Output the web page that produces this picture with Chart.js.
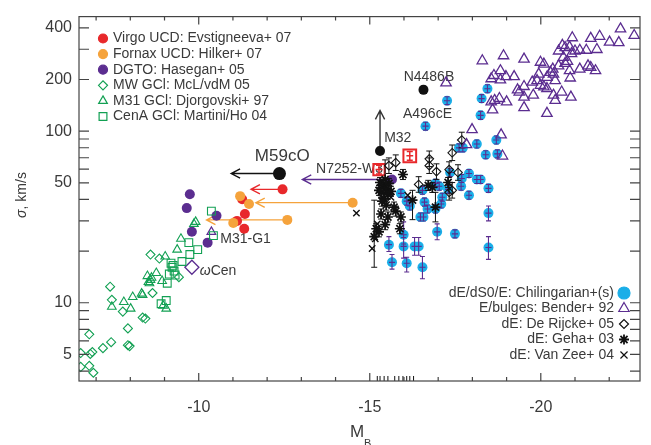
<!DOCTYPE html>
<html>
<head>
<meta charset="utf-8">
<script src="https://cdn.jsdelivr.net/npm/chart.js@4.4.1/dist/chart.umd.min.js"></script>
<style>
  html, body { margin: 0; padding: 0; background: #fff; }
  #wrap { width: 651px; height: 445px; position: relative; }
</style>
</head>
<body>
<div id="wrap"><canvas id="chart" width="651" height="445"></canvas></div>
<script>
// --- Data (M_B, sigma km/s) ---
const virgoUCD = [[-12.45,45.8],[-11.27,40.1],[-11.35,32.9],[-11.12,30.0],[-11.33,27.0]];
const fornaxUCD = [[-14.50,38.3],[-11.21,41.8],[-11.47,37.6],[-11.01,29.2],[-12.59,30.4]];
const dgto = [[-15.65,52.3],[-9.74,42.9],[-9.65,35.6],[-10.52,32.1],[-9.80,25.9],[-10.26,22.4]];
const mwGC = [[-8.59,19.1],[-8.85,18.1],[-9.42,14.1],[-7.41,12.4],[-7.46,10.4],[-7.78,8.88],[-7.93,7.09],
  [-6.80,6.55],[-7.44,5.89],[-7.20,5.44],[-6.89,5.16],[-6.83,5.03],[-6.55,5.09],[-7.93,5.66],[-7.98,5.59],
  [-6.80,4.29],[-6.92,3.91],[-6.55,4.23],[-8.36,8.20],[-8.44,8.09],[-8.65,11.4]];
const m31GC = [[-9.86,28.8],[-9.91,29.6],[-9.48,23.6],[-9.37,20.4],[-9.02,18.6],[-8.76,14.9],[-8.50,14.3],
  [-8.56,13.0],[-7.46,9.48],[-7.81,10.1],[-8.01,9.24],[-8.07,10.8],[-8.33,11.3],[-8.36,11.1],[-8.53,13.2],
  [-8.59,13.6],[-8.93,13.4],[-9.05,9.24],[-8.96,9.61],[-8.62,14.0]];
const cenaGC = [[-10.37,34.2],[-9.71,22.4],[-9.97,20.4],[-9.74,19.1],[-9.51,17.4],[-9.19,17.0],[-9.22,16.1],
  [-9.28,15.3],[-9.14,14.7],[-9.08,13.0],[-8.90,9.87],[-9.05,10.3],[-9.25,16.5],[-9.31,14.5],[-10.43,24.6]];
const chilingarian = [[-18.44,176.7],[-17.26,150.5],[-18.27,154.8],[-18.24,123.6],[-16.63,106.9],[-17.61,79.9],
  [-17.72,79.9],[-18.13,84.2],[-18.70,88.8],[-18.39,72.8],[-18.73,73.7],[-17.35,57.4],[-17.69,53.0],[-17.90,56.6],
  [-18.13,52.3],[-18.24,52.3],[-17.67,47.7],[-17.90,42.3],[-18.47,46.4],[-17.29,45.8],[-16.92,49.6],[-17.03,47.7],
  [-17.12,41.2],[-16.54,45.2],[-15.91,43.4],[-16.08,39.1],[-16.17,36.6],[-16.60,38.6],[-16.69,35.2],[-16.92,35.2],
  [-17.09,37.6],[-16.48,31.6],[-16.57,31.6],[-16.97,25.9],[-17.49,25.2],[-15.99,24.9],[-15.56,21.8],[-15.99,21.3],
  [-16.31,21.3],[-16.43,21.3],[-15.65,17.2],[-16.08,17.0],[-16.54,16.1],[-18.47,33.3],[-18.47,21.0]];
// [index, sigma low, sigma high]
const chilErr = [[33,23.3,28.8],[35,22.0,29.6],[36,19.9,24.3],[37,18.2,24.0],[38,18.9,24.0],[39,18.9,24.0],
  [40,15.7,19.1],[41,15.1,18.4],[42,13.8,18.6],[43,30.0,36.6],[44,17.9,24.3]];
const bender = [[-22.33,394],[-22.73,361],[-21.72,357],[-21.46,347],[-20.92,350],[-22.01,330],[-22.28,328],
  [-20.63,316],[-20.84,309],[-20.71,307],[-20.52,293],[-21.00,293],[-21.14,296],[-21.33,296],[-21.64,299],
  [-20.90,283],[-20.66,269],[-20.78,255],[-20.71,248],[-20.52,240],[-19.99,252],[-20.09,246],[-19.51,263],
  [-18.91,275],[-18.29,257],[-21.38,240],[-21.46,235],[-21.60,225],[-21.14,230],[-20.84,225],[-20.86,204],
  [-20.35,230],[-20.28,220],[-20.37,215],[-20.18,206],[-19.94,215],[-19.89,197],[-19.99,185],[-20.09,181],
  [-20.42,197],[-20.18,177],[-19.51,182],[-19.75,193],[-19.78,162],[-19.51,158],[-19.37,169],[-19.32,174],
  [-20.61,169],[-20.37,162],[-20.42,151],[-20.88,158],[-19.51,137],[-20.18,127],[-19.00,148],[-18.79,155],
  [-18.65,151],[-18.55,148],[-18.55,202],[-18.63,211],[-18.82,225],[-18.82,199],[-18.98,208],[-19.22,208],
  [-18.59,133],[-17.99,102],[-18.84,95.2],[-18.88,71.6],[-17.23,191],[-17.83,83.4]];
const deRijcke = [[-15.76,65.5],[-16.74,69.0],[-17.69,88.8],[-17.41,74.8],[-16.95,58.1],[-17.32,59.7],
  [-17.58,57.4],[-16.43,48.9],[-17.41,45.2],[-17.32,44.0],[-15.56,62.9],[-16.74,62.9]];
const geha = [[-15.97,55.9],[-15.39,48.3],[-15.48,46.4],[-15.33,44.0],[-15.53,42.9],[-15.42,40.6],[-15.27,45.2],
  [-15.62,44.6],[-15.56,49.6],[-15.36,39.1],[-15.76,34.2],[-15.91,31.6],[-15.71,36.1],[-15.19,27.0],[-15.45,28.5],
  [-15.13,24.3],[-15.27,25.9],[-16.25,39.6],[-16.83,47.0],[-17.29,50.2],[-15.88,27.0],[-15.53,31.6],[-15.33,32.9],
  [-16.71,48.3],[-15.48,37.1],[-15.30,50.2],[-15.45,52.3],[-16.92,36.1]];
const gehaErr = [[15,16.1,39.6],[17,30.5,45.2],[26,38.6,68.0],[27,29.6,44.0]];
const vanZee = [[-14.61,33.3],[-15.22,28.8],[-15.16,23.6],[-15.07,20.7],[-15.62,41.2],[-16.11,42.3]];
const noSigma = [-15.22,-15.30,-15.42,-15.53,-15.73,-15.85,-15.97,-16.08,-16.17,-16.28];
const noSigmaFloor = 3.62;
const blackObjects = [[-12.36,56.6],[-15.30,76.7],[-16.57,174]];   // M59cO, M32, N4486B
const redSquares = [[-16.17,71.8],[-15.27,59.7]];
const omegaCen = [[-9.80,16.1]];
const g1 = [[-10.37,25.9]];
// arrows: from -> to
const arrowFrom = [[-12.36,56.6],[-12.45,45.8],[-14.50,38.3],[-12.59,30.4],[-15.65,52.3],[-15.30,76.7]];
const arrowTo   = [[-10.95,56.6],[-11.53,45.8],[-11.67,38.3],[-10.23,30.4],[-13.03,52.3],[-15.30,132]];

const xTickVals = [-22,-21,-20,-19,-18,-17,-16,-15,-14,-13,-12,-11,-10,-9,-8,-7];
const xLabelVals = [-20,-15,-10];
const yTickVals = [4,5,6,7,8,9,10,20,30,40,50,60,70,80,90,100,200,300,400];
const yLabelVals = [5,10,50,100,200,400];

// --- Styles ---
const FONT = '"Liberation Sans", Arial, Helvetica, sans-serif';
const TXT = '#3a3a3a';
const BLUE = '#1aaee8', PURPLE = '#5b2d90', RED = '#e8282b', ORANGE = '#f5a33c', GREEN = '#12a053', BLACK = '#111';
const NONE = 'rgba(0,0,0,0)';
const arrowColors = [BLACK, RED, ORANGE, ORANGE, PURPLE, '#333'];

const notes = [
  { text: 'M59cO', x: -11.64, y: 70.9, size: 17 },
  { text: 'N7252-W3', x: -13.43, y: 59.7, size: 14 },
  { text: 'M32', x: -15.42, y: 91.2, size: 14 },
  { text: 'A496cE', x: -15.97, y: 125, size: 14 },
  { text: 'N4486B', x: -15.99, y: 207, size: 14 },
  { text: 'M31-G1', x: -10.63, y: 23.6, size: 14 },
  { text: 'Cen', x: -10.03, y: 15.3, size: 14, omega: true }
];

const legendLeft = [
  { text: 'Virgo UCD: Evstigneeva+ 07', style: 'circle', r: 4.5, fill: RED, stroke: RED },
  { text: 'Fornax UCD: Hilker+ 07', style: 'circle', r: 4.5, fill: ORANGE, stroke: ORANGE },
  { text: 'DGTO: Hasegan+ 05', style: 'circle', r: 4.5, fill: PURPLE, stroke: PURPLE },
  { text: 'MW GCl: McL/vdM 05', style: 'rectRot', r: 4.5, fill: NONE, stroke: GREEN },
  { text: 'M31 GCl: Djorgovski+ 97', style: 'triangle', r: 5, fill: NONE, stroke: GREEN },
  { text: 'CenA GCl: Martini/Ho 04', style: 'rect', r: 5.5, fill: NONE, stroke: GREEN }
];
const legendRight = [
  { text: 'dE/dS0/E: Chilingarian+(s)', style: 'circle', r: 6, fill: BLUE, stroke: BLUE },
  { text: 'E/bulges: Bender+ 92', style: 'triangle', r: 6, fill: NONE, stroke: PURPLE },
  { text: 'dE: De Rijcke+ 05', style: 'rectRot', r: 4.5, fill: NONE, stroke: BLACK },
  { text: 'dE: Geha+ 03', style: 'star', r: 5, fill: NONE, stroke: BLACK, bw: 1.8 },
  { text: 'dE: Van Zee+ 04', style: 'crossRot', r: 5, fill: NONE, stroke: BLACK }
];

// --- Helpers ---
const pts = arr => arr.map(([x, y]) => ({ x, y }));
const withErr = (arr, errs) => {
  const p = pts(arr);
  errs.forEach(([i, lo, hi]) => { p[i].lo = lo; p[i].hi = hi; });
  return p;
};
const drawMarker = (ctx, m, x, y) => {
  ctx.save();
  ctx.fillStyle = m.fill; ctx.strokeStyle = m.stroke; ctx.lineWidth = m.bw || 1.2;
  Chart.helpers.drawPoint(ctx, { pointStyle: m.style, radius: m.r, borderWidth: m.bw || 1.2, rotation: 0 }, x, y);
  ctx.restore();
};

// --- Plugins ---
const errorBars = {
  id: 'errorBars',
  draw(chart, index) {
    const ds = chart.data.datasets[index];
    const eb = ds.eb;
    const { ctx, scales: { x, y } } = chart;
    ctx.save();
    ctx.strokeStyle = eb.color; ctx.lineWidth = eb.width || 1;
    ctx.beginPath();
    ds.data.forEach(p => {
      const lo = p.lo ?? p.y / (1 + eb.rel), hi = p.hi ?? p.y * (1 + eb.rel);
      const px = x.getPixelForValue(p.x);
      const y1 = y.getPixelForValue(lo), y2 = y.getPixelForValue(hi);
      const c = eb.cap;
      ctx.moveTo(px, y1); ctx.lineTo(px, y2);
      ctx.moveTo(px - c, y1); ctx.lineTo(px + c, y1);
      ctx.moveTo(px - c, y2); ctx.lineTo(px + c, y2);
      if (eb.xerr) {
        const py = y.getPixelForValue(p.y);
        ctx.moveTo(x.getPixelForValue(p.x - eb.xerr), py);
        ctx.lineTo(x.getPixelForValue(p.x + eb.xerr), py);
      }
    });
    ctx.stroke();
    ctx.restore();
  },
  beforeDatasetDraw(chart, args) {
    const ds = chart.data.datasets[args.index];
    if (ds.eb && !ds.eb.top) this.draw(chart, args.index);
  },
  afterDatasetDraw(chart, args) {
    const ds = chart.data.datasets[args.index];
    if (ds.eb && ds.eb.top) this.draw(chart, args.index);
  }
};

const arrowsAndNotes = {
  id: 'arrowsAndNotes',
  beforeDatasetsDraw(chart) {
    const { ctx, scales: { x, y } } = chart;
    arrowFrom.forEach((f, i) => {
      const t = arrowTo[i];
      const x1 = x.getPixelForValue(f[0]), y1 = y.getPixelForValue(f[1]);
      const x2 = x.getPixelForValue(t[0]), y2 = y.getPixelForValue(t[1]);
      const ang = Math.atan2(y2 - y1, x2 - x1);
      const L = 10, W = 0.48;
      ctx.save();
      ctx.strokeStyle = arrowColors[i]; ctx.lineWidth = 1.4;
      ctx.beginPath();
      ctx.moveTo(x1, y1); ctx.lineTo(x2, y2);
      ctx.moveTo(x2 - L * Math.cos(ang - W), y2 - L * Math.sin(ang - W));
      ctx.lineTo(x2, y2);
      ctx.lineTo(x2 - L * Math.cos(ang + W), y2 - L * Math.sin(ang + W));
      ctx.stroke();
      ctx.restore();
    });
    ctx.save();
    ctx.fillStyle = TXT; ctx.textBaseline = 'middle'; ctx.textAlign = 'left';
    notes.forEach(n => {
      let px = x.getPixelForValue(n.x);
      const py = y.getPixelForValue(n.y);
      if (n.omega) {
        ctx.font = `italic ${n.size}px ${FONT}`;
        ctx.fillText('\u03c9', px, py);
        px += ctx.measureText('\u03c9').width;
      }
      ctx.font = `${n.size}px ${FONT}`;
      ctx.fillText(n.text, px, py);
    });
    ctx.restore();
  }
};

const frame = {
  id: 'frame',
  afterDatasetsDraw(chart) {
    const { ctx, chartArea: a, scales: { x, y } } = chart;
    ctx.save();
    ctx.strokeStyle = '#444'; ctx.lineWidth = 1.2;
    ctx.strokeRect(a.left, a.top, a.right - a.left, a.bottom - a.top);
    ctx.beginPath();
    xTickVals.forEach(v => {
      const px = x.getPixelForValue(v);
      const major = v % 5 === 0;
      ctx.moveTo(px, a.bottom); ctx.lineTo(px, a.bottom - (major ? 8 : 4));
      ctx.moveTo(px, a.top); ctx.lineTo(px, a.top + (major ? 8 : 4));
    });
    yTickVals.forEach(v => {
      const py = y.getPixelForValue(v);
      ctx.moveTo(a.left, py); ctx.lineTo(a.left + 10, py);
      ctx.moveTo(a.right, py); ctx.lineTo(a.right - 10, py);
    });
    ctx.stroke();
    ctx.restore();
  },
  afterDraw(chart) {
    const { ctx } = chart;
    ctx.save();
    ctx.fillStyle = TXT; ctx.textBaseline = 'middle';
    // legend top left
    ctx.font = `14px ${FONT}`; ctx.textAlign = 'left';
    legendLeft.forEach((m, i) => {
      const yy = 38.5 + i * 15.6;
      drawMarker(ctx, m, 103, yy);
      ctx.fillText(m.text, 113, yy);
    });
    // legend bottom right
    ctx.textAlign = 'right';
    legendRight.forEach((m, i) => {
      const yy = 293 + i * 15.5;
      drawMarker(ctx, m, 624, yy);
      ctx.fillText(m.text, 614, yy);
    });
    // y title
    ctx.save();
    ctx.translate(22, 195); ctx.rotate(-Math.PI / 2);
    ctx.font = `italic 14px ${FONT}`;
    const w1 = ctx.measureText('\u03c3').width;
    ctx.font = `14px ${FONT}`;
    const w2 = ctx.measureText(', km/s').width;
    ctx.textAlign = 'left';
    ctx.font = `italic 14px ${FONT}`;
    ctx.fillText('\u03c3', -(w1 + w2) / 2, 0);
    ctx.font = `14px ${FONT}`;
    ctx.fillText(', km/s', -(w1 + w2) / 2 + w1, 0);
    ctx.restore();
    // x title
    ctx.textAlign = 'left'; ctx.textBaseline = 'alphabetic';
    ctx.font = `17px ${FONT}`;
    ctx.fillText('M', 350, 437);
    ctx.font = `11px ${FONT}`;
    ctx.fillText('B', 364, 447);
    ctx.restore();
  }
};

// --- Chart ---
const ctx = document.getElementById('chart').getContext('2d');
new Chart(ctx, {
  type: 'scatter',
  data: {
    datasets: [
      { label: 'E/bulges: Bender+ 92', data: pts(bender), pointStyle: 'triangle', pointRadius: 6,
        borderColor: PURPLE, backgroundColor: NONE, borderWidth: 1.3 },
      { label: 'MW GCl', data: pts(mwGC), pointStyle: 'rectRot', pointRadius: 4.5,
        borderColor: GREEN, backgroundColor: NONE, borderWidth: 1.1 },
      { label: 'M31 GCl', data: pts(m31GC), pointStyle: 'triangle', pointRadius: 5,
        borderColor: GREEN, backgroundColor: NONE, borderWidth: 1.1 },
      { label: 'CenA GCl', data: pts(cenaGC), pointStyle: 'rect', pointRadius: 5.5,
        borderColor: GREEN, backgroundColor: NONE, borderWidth: 1.1 },
      { label: 'dE: De Rijcke+ 05', data: pts(deRijcke), pointStyle: 'rectRot', pointRadius: 4.3,
        borderColor: BLACK, backgroundColor: NONE, borderWidth: 1.1,
        eb: { color: BLACK, rel: 0.11, cap: 3, width: 1 } },
      { label: 'dE: Geha+ 03', data: withErr(geha, gehaErr), pointStyle: 'star', pointRadius: 5,
        borderColor: BLACK, backgroundColor: NONE, borderWidth: 1.7,
        eb: { color: BLACK, rel: 0.07, cap: 3, width: 1 } },
      { label: 'dE: Van Zee+ 04', data: pts(vanZee), pointStyle: 'crossRot', pointRadius: 4.5,
        borderColor: BLACK, backgroundColor: NONE, borderWidth: 1.4 },
      { label: 'dE/dS0/E: Chilingarian+(s)', data: withErr(chilingarian, chilErr), pointStyle: 'circle', pointRadius: 5,
        borderColor: BLUE, backgroundColor: BLUE, borderWidth: 0,
        eb: { color: PURPLE, rel: 0.055, cap: 2.5, xerr: 0.09, width: 1.1, top: true } },
      { label: 'no sigma', data: noSigma.map(v => ({ x: v, y: noSigmaFloor })), pointStyle: 'line', rotation: 90,
        pointRadius: 2.5, borderColor: BLACK, borderWidth: 1 },
      { label: 'DGTO', data: pts(dgto), pointStyle: 'circle', pointRadius: 5,
        borderColor: PURPLE, backgroundColor: PURPLE, borderWidth: 0 },
      { label: 'Fornax UCD', data: pts(fornaxUCD), pointStyle: 'circle', pointRadius: 5,
        borderColor: ORANGE, backgroundColor: ORANGE, borderWidth: 0 },
      { label: 'Virgo UCD', data: pts(virgoUCD), pointStyle: 'circle', pointRadius: 5,
        borderColor: RED, backgroundColor: RED, borderWidth: 0 },
      { label: 'omega Cen', data: pts(omegaCen), pointStyle: 'rectRot', pointRadius: 7,
        borderColor: PURPLE, backgroundColor: NONE, borderWidth: 1.3 },
      { label: 'G1', data: pts(g1), pointStyle: 'triangle', pointRadius: 5,
        borderColor: PURPLE, backgroundColor: NONE, borderWidth: 1.2 },
      { label: 'compact', data: pts(blackObjects), pointStyle: 'circle', pointRadius: [6.5, 5, 5],
        borderColor: BLACK, backgroundColor: BLACK, borderWidth: 0,
        eb: { color: BLACK, rel: 0.05, cap: 3, width: 1 } },
      { label: 'red squares', data: pts(redSquares), pointStyle: 'rect', pointRadius: [9, 8],
        borderColor: RED, backgroundColor: NONE, borderWidth: 2,
        eb: { color: RED, rel: 0.06, cap: 3, xerr: 0.1, width: 1.5, top: true } }
    ]
  },
  options: {
    responsive: false,
    animation: false,
    devicePixelRatio: 1,
    layout: { padding: { top: 12, right: 3, left: 0, bottom: 0 } },
    plugins: { legend: { display: false }, tooltip: { enabled: false } },
    scales: {
      x: {
        type: 'linear', reverse: true, min: -22.9, max: -6.5,
        grid: { display: false, drawTicks: false }, border: { display: false },
        afterBuildTicks: s => { s.ticks = xLabelVals.map(v => ({ value: v })); },
        afterFit: s => { s.height = 64; },
        ticks: { color: TXT, font: { family: FONT, size: 16 }, padding: 17, maxRotation: 0, autoSkip: false,
          callback: v => String(v) }
      },
      y: {
        type: 'logarithmic', min: 3.5, max: 465,
        grid: { display: false, drawTicks: false }, border: { display: false },
        afterBuildTicks: s => { s.ticks = yLabelVals.map(v => ({ value: v })); },
        afterFit: s => { s.width = 79; },
        ticks: { color: TXT, font: { family: FONT, size: 16 }, padding: 7, autoSkip: false,
          callback: v => String(v) }
      }
    }
  },
  plugins: [errorBars, arrowsAndNotes, frame]
});
</script>
</body>
</html>
